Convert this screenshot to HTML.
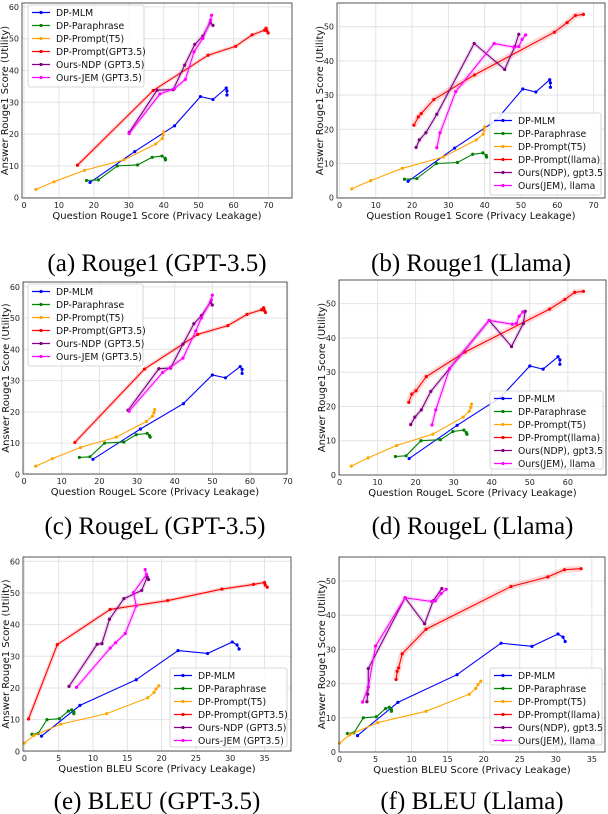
<!DOCTYPE html>
<html><head><meta charset="utf-8"><style>
body{margin:0;background:#fff;width:608px;height:814px;overflow:hidden}
svg{display:block}
text{font-family:"DejaVu Sans","Liberation Sans",sans-serif}
.cap{font-family:"Liberation Serif",serif;font-size:25px}
</style></head><body>
<svg id="fig" width="608" height="814" viewBox="0 0 608 814" xmlns="http://www.w3.org/2000/svg"></svg>
<script>
// Shared utility (y) values
const yMLM=[4.8,14.5,22.6,31.8,30.9,34.5,33.6,32.3];
const yPara=[5.4,5.6,10.0,10.3,12.7,13.1,12.4,11.9];
const yT5=[2.6,5.0,8.6,11.9,16.9,18.6,19.7,20.7];
const yRedG=[10.2,33.7,44.8,47.6,51.2,52.7,53.3,52.5,51.8];
const yRedL=[21.2,23.6,24.6,28.7,35.9,48.4,51.2,53.3,53.6];
const yNdpG=[20.5,33.8,34.0,41.7,48.2,50.8,55.0,54.2];
const yNdpL=[14.7,16.9,19.0,24.4,45.1,37.5,44.2,47.8];
const yJemG=[20.2,32.6,34.3,37.2,45.9,50.1,55.8,57.4];
const yJemL=[14.6,19.0,31.0,45.1,44.0,44.2,46.3,47.6];
// Privacy leakage (x) values per metric
const xMLM_R1=[18.9,31.7,43.1,50.5,54.1,57.9,58.1,58.1];
const xPara_R1=[17.9,21.3,26.7,32.5,36.7,39.5,40.4,40.5];
const xT5_R1=[3.4,8.6,17.3,28.6,37.7,39.6,39.8,40.0];
const xRedG_R1=[15.3,37.0,52.7,60.6,65.3,68.9,69.3,69.5,69.9];
const xNdpG_R1=[30.1,38.1,42.7,46.0,48.9,51.2,53.3,54.1];
const xJemG_R1=[30.1,38.9,43.1,46.2,48.7,51.2,53.4,53.7];
const xRedL_R1=[20.5,21.7,22.5,26.0,37.2,59.2,62.7,65.0,67.2];
const xNdpL_R1=[21.1,22.0,23.8,26.8,37.1,45.5,48.3,49.4];
const xJemL_R1=[26.8,27.7,32.0,42.6,48.1,49.4,50.3,51.3];
const xMLM_RL=[18.3,30.9,42.3,50.0,53.5,57.4,57.9,57.9];
const xPara_RL=[14.7,17.5,21.4,26.5,29.8,32.7,33.3,33.5];
const xT5_RL=[3.1,7.5,15.0,24.5,32.5,34.1,34.5,34.7];
const xRedG_RL=[13.5,32.0,46.1,54.1,59.2,63.1,63.6,63.8,64.1];
const xNdpG_RL=[27.6,35.8,38.9,42.2,45.1,47.1,49.5,50.0];
const xJemG_RL=[27.9,36.8,38.9,42.2,45.6,47.1,49.7,50.0];
const xRedL_RL=[18.2,19.0,20.1,22.8,33.0,55.2,59.2,61.8,64.1];
const xNdpL_RL=[18.7,19.8,21.5,24.0,39.3,45.2,48.3,48.8];
const xJemL_RL=[24.3,25.3,28.9,39.3,45.4,46.5,47.2,48.2];
const xMLM_B=[2.5,8.1,16.3,22.4,26.7,30.3,31.0,31.3];
const xPara_B=[1.1,2.0,3.3,5.1,6.4,6.9,7.2,7.2];
const xT5_B=[0.0,1.4,5.3,12.0,18.0,18.9,19.2,19.6];
const xRedG_B=[0.6,4.8,12.5,20.9,28.8,33.4,35.0,35.1,35.4];
const xNdpG_B=[6.5,10.6,11.3,12.4,14.5,17.1,17.9,18.1];
const xJemG_B=[7.6,12.5,13.3,14.7,16.3,15.9,17.8,17.6];
const xRedL_B=[7.85,8.0,8.2,8.7,12.0,23.8,28.9,31.2,33.5];
const xNdpL_B=[3.8,3.9,4.0,4.0,9.1,11.8,13.0,14.2];
const xJemL_B=[3.2,4.0,5.0,9.1,12.8,13.3,14.1,14.8];
const ticksX70=[0,10,20,30,40,50,60,70];
const ticksX60=[0,10,20,30,40,50,60];
const ticksX35=[0,5,10,15,20,25,30,35];
const ticksY60=[0,10,20,30,40,50,60];
const ticksY50=[0,10,20,30,40,50];
const legG=["DP-MLM","DP-Paraphrase","DP-Prompt(T5)","DP-Prompt(GPT3.5)","Ours-NDP (GPT3.5)","Ours-JEM (GPT3.5)"];
const legL=["DP-MLM","DP-Paraphrase","DP-Prompt(T5)","DP-Prompt(llama)","Ours(NDP), gpt3.5","Ours(JEM), llama"];
const colors=["#0000ff","#008000","#ffa500","#ff0000","#800080","#ff00ff"];
const NS="http://www.w3.org/2000/svg";
const fig=document.getElementById('fig');
function mk(tag,attrs,parent){const e=document.createElementNS(NS,tag);for(const k in attrs)e.setAttribute(k,attrs[k]);(parent||fig).appendChild(e);return e;}
const panels=[
 {id:'a',L:22,R:292,T:3,B:198,x0:24,xs:3.493,y0:197.7,ys:3.18,xt:ticksX70,yt:ticksY60,xl:"Question Rouge1 Score (Privacy Leakage)",cap:"(a) Rouge1 (GPT-3.5)",llama:false,
  xs_:[xMLM_R1,xPara_R1,xT5_R1,xRedG_R1,xNdpG_R1,xJemG_R1],leg:[28,5,116,82],capY:271},
 {id:'b',L:337,R:605,T:3,B:198,x0:339.5,xs:3.63,y0:197.7,ys:3.42,xt:ticksX70,yt:ticksY50,xl:"Question Rouge1 Score (Privacy Leakage)",cap:"(b) Rouge1 (Llama)",llama:true,
  xs_:[xMLM_R1,xPara_R1,xT5_R1,xRedL_R1,xNdpL_R1,xJemL_R1],leg:[490,113,111,82],capY:271},
 {id:'c',L:23,R:287,T:282,B:474,x0:24,xs:3.767,y0:474.3,ys:3.123,xt:ticksX70,yt:ticksY60,xl:"Question RougeL Score (Privacy Leakage)",cap:"(c) RougeL (GPT-3.5)",llama:false,
  xs_:[xMLM_RL,xPara_RL,xT5_RL,xRedG_RL,xNdpG_RL,xJemG_RL],leg:[28,284,115,82],capY:534},
 {id:'d',L:339,R:606,T:280,B:475,x0:339.5,xs:3.806,y0:475,ys:3.427,xt:ticksX60,yt:ticksY50,xl:"Question RougeL Score (Privacy Leakage)",cap:"(d) RougeL (Llama)",llama:true,
  xs_:[xMLM_RL,xPara_RL,xT5_RL,xRedL_RL,xNdpL_RL,xJemL_RL],leg:[490,391,113,78],capY:534},
 {id:'e',L:23,R:291,T:557,B:751,x0:24.4,xs:6.86,y0:751.3,ys:3.167,xt:ticksX35,yt:ticksY60,xl:"Question BLEU Score (Privacy Leakage)",cap:"(e) BLEU (GPT-3.5)",llama:false,
  xs_:[xMLM_B,xPara_B,xT5_B,xRedG_B,xNdpG_B,xJemG_B],leg:[170,668,117,79],capY:809},
 {id:'f',L:339,R:605,T:557,B:752,x0:339.5,xs:7.21,y0:752,ys:3.42,xt:ticksX35,yt:ticksY50,xl:"Question BLEU Score (Privacy Leakage)",cap:"(f) BLEU (Llama)",llama:true,
  xs_:[xMLM_B,xPara_B,xT5_B,xRedL_B,xNdpL_B,xJemL_B],leg:[490,668,112,77],capY:809}
];
panels.forEach(p=>{
 const g=mk('g',{});
 
 
 const X=v=>p.x0+v*p.xs, Y=v=>p.y0-v*p.ys;
 p.xt.forEach(t=>{const l=mk('line',{x1:X(t),x2:X(t),y1:p.T,y2:p.B,stroke:'#e3e3e3','stroke-width':1},g);
  
  const tx=mk('text',{x:X(t),y:p.B+10,'font-size':8,'text-anchor':'middle',fill:'#222'},g);tx.textContent=t;
  });
 p.yt.forEach(t=>{const l=mk('line',{x1:p.L,x2:p.R,y1:Y(t),y2:Y(t),stroke:'#e3e3e3','stroke-width':1},g);
  
  const tx=mk('text',{x:p.L-3,y:Y(t)+3,'font-size':8,'text-anchor':'end',fill:'#222'},g);tx.textContent=t;
  });
 const ys=[yMLM,yPara,yT5,p.llama?yRedL:yRedG,p.llama?yNdpL:yNdpG,p.llama?yJemL:yJemG];
 for(let s=0;s<6;s++){
  const xa=p.xs_[s],ya=ys[s];
  const pts=xa.map((v,i)=>X(v).toFixed(1)+','+Y(ya[i]).toFixed(1)).join(' ');
  if(s>=3){const band=mk('polyline',{points:pts,fill:'none',stroke:colors[s],'stroke-opacity':0.15,'stroke-width':(s==3&&p.llama)?6:4,'stroke-linejoin':'round'},g);
   }
  const pl=mk('polyline',{points:pts,fill:'none',stroke:colors[s],'stroke-width':1.1},g);
  
  
  xa.forEach((v,i)=>{const c=mk('circle',{cx:X(v),cy:Y(ya[i]),r:1.6,fill:colors[s]},g);
   });
 }
 const fr=mk('rect',{x:p.L,y:p.T,width:p.R-p.L,height:p.B-p.T,fill:'none',stroke:'#444','stroke-width':0.9},g);
 
 const xl=mk('text',{x:(p.L+p.R)/2,y:p.B+21,'font-size':10,'text-anchor':'middle',fill:'#111'},g);xl.textContent=p.xl;
 
 const yx=p.L-14,yy=(p.T+p.B)/2;
 const yl=mk('text',{x:yx,y:yy,'font-size':10,'text-anchor':'middle',fill:'#111',transform:`rotate(-90 ${yx} ${yy})`},g);yl.textContent="Answer Rouge1 Score (Utility)";
 
 const [lx,ly,lw,lh]=p.leg;
 const lg=mk('g',{},g);
 
 mk('rect',{x:lx,y:ly,width:lw,height:lh,fill:'#fff','fill-opacity':0.85,stroke:'#ccc','stroke-width':0.8,rx:2},lg);
 const names=p.llama?legL:legG;
 names.forEach((n,i)=>{const cy=ly+7.5+i*13;
  mk('line',{x1:lx+4,x2:lx+22,y1:cy,y2:cy,stroke:colors[i],'stroke-width':1.2},lg);
  mk('circle',{cx:lx+13,cy:cy,r:1.6,fill:colors[i]},lg);
  const t=mk('text',{x:lx+28,y:cy+3.3,'font-size':9.3,fill:'#111'},lg);t.textContent=n;
  });
 const cp=mk('text',{x:(p.L+p.R)/2,y:p.capY,'text-anchor':'middle',class:'cap',fill:'#000'},g);cp.textContent=p.cap;
 
});
</script>
</body></html>
